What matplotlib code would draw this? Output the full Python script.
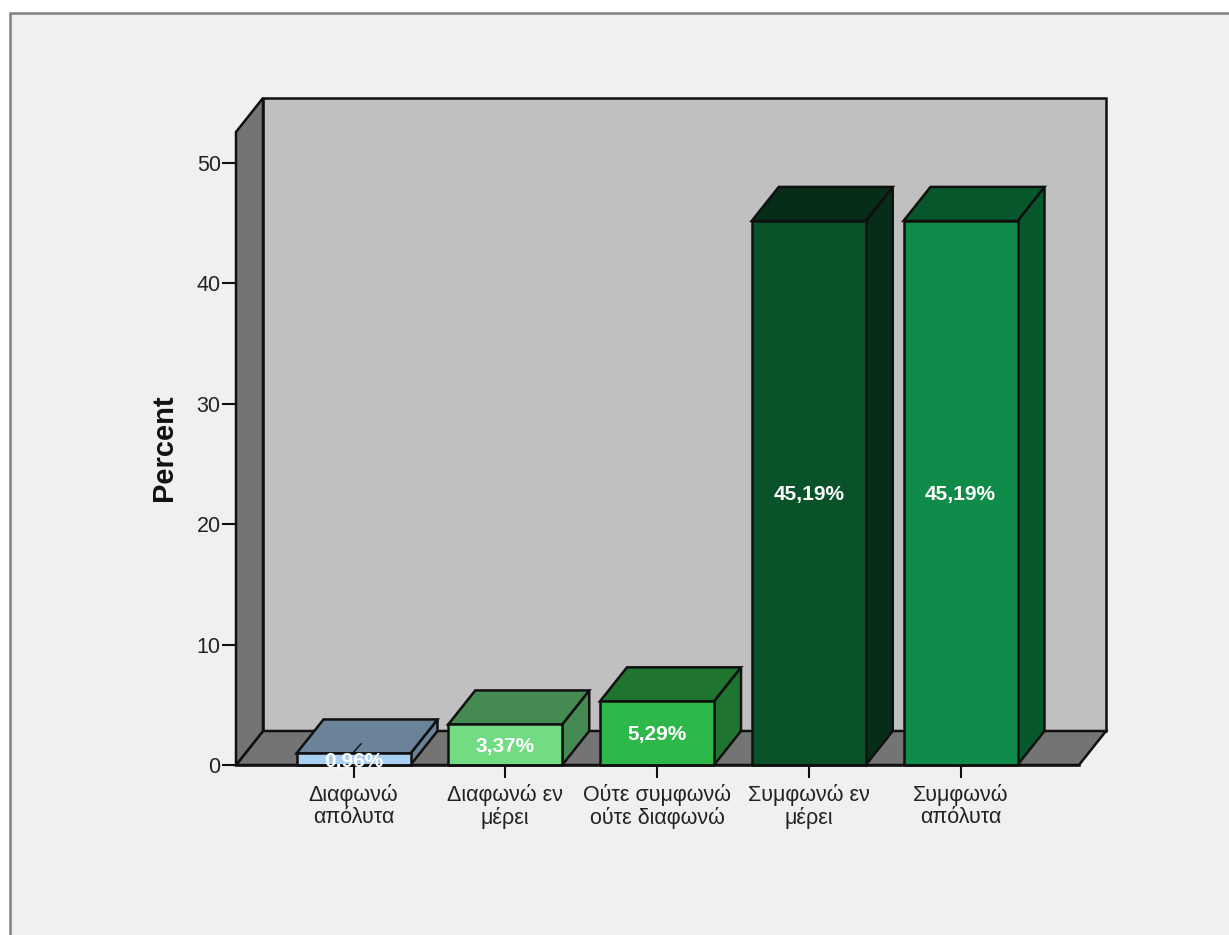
import matplotlib
matplotlib.use("Agg")
import matplotlib.pyplot as plt
from matplotlib.patches import Polygon, Rectangle

categories = ["Διαφωνώ\nαπόλυτα", "Διαφωνώ εν\nμέρει", "Ούτε συμφωνώ\nούτε διαφωνώ", "Συμφωνώ εν\nμέρει", "Συμφωνώ\nαπόλυτα"]
percent = [0.96, 3.37, 5.29, 45.19, 45.19]
labels = ["0,96%", "3,37%", "5,29%", "45,19%", "45,19%"]
front_colors = ["#a8d0f2", "#72dc82", "#2fb84a", "#0a5229", "#0f8c4a"]
top_colors = ["#6a8398", "#458a52", "#1f7530", "#052d17", "#07572c"]
side_colors = ["#6a8398", "#458a52", "#1f7530", "#052d17", "#07572c"]
yticks = [0, 10, 20, 30, 40, 50]

plt.rcParams["font.family"] = ["Liberation Sans", "DejaVu Sans"]

W, H = 1229, 935
fig = plt.figure(figsize=(W / 100, H / 100), dpi=100, facecolor="white")

# grey panel, only top and left border visible
fig.add_artist(Rectangle((9.5 / W, -0.1), 1.1, 0.1 + (H - 13.5) / H, transform=fig.transFigure,
                         facecolor="#f0f0f0", edgecolor="#808080", linewidth=1.8, zorder=-5))

# axes = the front plane of the 3d box
left, right, bottom, top = 236, 1079, 765, 132
ax = fig.add_axes([left / W, (H - bottom) / H, (right - left) / W, (bottom - top) / H])
ax.patch.set_visible(False)
for s in ax.spines.values():
    s.set_visible(False)

px_x = 151.75
px_y = 12.04
ax.set_xlim((left - 353.5) / px_x, (right - 353.5) / px_x)
ax.set_ylim(0, (bottom - top) / px_y)
x0, x1 = ax.get_xlim()
y1 = ax.get_ylim()[1]

# depth of the box, in data units
dx = 27 / px_x
dy = 34 / px_y
bar_w = 114 / px_x
edge = "#101010"
lw = 1.8

ax.add_patch(Polygon([(x0 + dx, dy), (x1 + dx, dy), (x1 + dx, y1 + dy), (x0 + dx, y1 + dy)],
                     facecolor="#c0c0c0", edgecolor=edge, linewidth=lw, clip_on=False))
ax.add_patch(Polygon([(x0, 0), (x0 + dx, dy), (x1 + dx, dy), (x1, 0)],
                     facecolor="#747474", edgecolor=edge, linewidth=lw, clip_on=False))
ax.add_patch(Polygon([(x0, 0), (x0 + dx, dy), (x0 + dx, y1 + dy), (x0, y1)],
                     facecolor="#747474", edgecolor=edge, linewidth=lw, clip_on=False))

for i, v in enumerate(percent):
    a = i - bar_w / 2
    b = i + bar_w / 2
    ax.add_patch(Polygon([(b, 0), (b + dx, dy), (b + dx, v + dy), (b, v)],
                         facecolor=side_colors[i], edgecolor=edge, linewidth=lw, clip_on=False))
    ax.add_patch(Polygon([(a, v), (a + dx, v + dy), (b + dx, v + dy), (b, v)],
                         facecolor=top_colors[i], edgecolor=edge, linewidth=lw, clip_on=False))

ax.bar(range(len(percent)), percent, width=bar_w, color=front_colors, edgecolor=edge, linewidth=lw, clip_on=False)

# small leader line above the first label
ax.plot([0.0, 0.05], [percent[0] + 0.1, percent[0] + 0.8], color=edge, linewidth=1)

for i, v in enumerate(percent):
    ax.text(i, v / 2 - 0.15, labels[i], ha="center", va="center", color="white", fontsize=15, fontweight="bold")

ax.set_xticks(range(len(categories)))
ax.set_xticklabels(categories, fontsize=15.5, color="#222222", linespacing=1.1)
ax.set_yticks(yticks)
ax.tick_params(axis="x", length=9, width=1.5, color=edge, pad=4.5)
ax.tick_params(axis="y", length=10, width=1.5, color=edge, pad=1, labelsize=15.5, labelcolor="#222222")
ax.plot([x0, x1], [0, 0], color=edge, linewidth=lw, clip_on=False)

fig.text(164 / W, 1 - 448 / H, "Percent", rotation=90, ha="center", va="center",
         fontsize=21, fontweight="bold", color="#111111")

fig.savefig("out.png", dpi=100)
